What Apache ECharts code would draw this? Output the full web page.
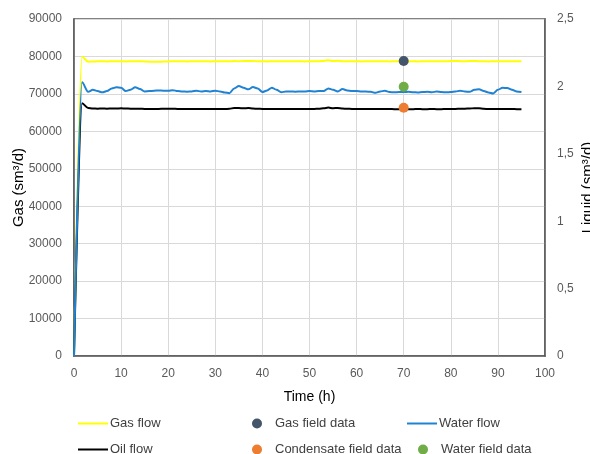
<!DOCTYPE html>
<html>
<head>
<meta charset="utf-8">
<script src="https://cdn.jsdelivr.net/npm/echarts@6/dist/echarts.min.js"></script>
<style>html,body{margin:0;padding:0;background:#fff}#c{width:590px;height:454px}</style>
</head>
<body>
<div id="c"></div>
<script>
var times = [0,1.7,3,4,5,6,7,8,9,10,11,12,13,14,15,16,17,18,19,20,21,22,23,24,25,26,27,28,29,30,31,32,33,34,35,36,37,38,39,40,41,42,43,44,45,46,47,48,49,50,51,52,53,54,55,56,57,58,59,60,61,62,63,64,65,66,67,68,69,70,71,72,73,74,75,76,77,78,79,80,81,82,83,84,85,86,87,88,89,90,91,92,93,94,95];
var gasFlow = [0,79900,78600,78650,78700,78700,78680,78700,78720,78700,78680,78700,78720,78700,78680,78600,78550,78580,78620,78680,78700,78720,78700,78680,78700,78720,78700,78700,78680,78700,78720,78700,78720,78760,78740,78760,78780,78760,78740,78700,78680,78700,78720,78700,78700,78720,78700,78700,78680,78700,78700,78720,78800,78980,78760,78820,78700,78720,78700,78700,78680,78700,78700,78720,78700,78700,78680,78700,78700,78680,78680,78700,78680,78700,78700,78700,78720,78700,78720,78760,78780,78740,78720,78760,78800,78740,78700,78680,78700,78720,78740,78720,78700,78720,78740];
var waterFlow = [0,2.03,1.96,1.975,1.965,1.956,1.965,1.985,1.993,1.99,1.965,1.975,1.993,1.98,1.963,1.965,1.968,1.97,1.968,1.968,1.972,1.965,1.962,1.961,1.963,1.968,1.962,1.966,1.963,1.968,1.962,1.955,1.95,1.985,2.003,1.99,1.978,1.995,1.985,1.958,1.97,1.99,1.975,1.957,1.962,1.963,1.961,1.963,1.962,1.965,1.963,1.966,1.965,1.985,1.975,1.962,1.98,1.97,1.965,1.966,1.963,1.962,1.96,1.952,1.962,1.968,1.958,1.957,1.958,1.958,1.96,1.957,1.955,1.958,1.96,1.957,1.962,1.958,1.956,1.958,1.962,1.968,1.962,1.96,1.975,1.978,1.965,1.955,1.948,1.975,1.99,1.988,1.975,1.962,1.958];
var oilFlow = [0,1.875,1.84,1.836,1.835,1.836,1.835,1.836,1.836,1.837,1.836,1.835,1.834,1.834,1.833,1.832,1.832,1.833,1.834,1.834,1.834,1.833,1.833,1.832,1.832,1.833,1.832,1.832,1.833,1.832,1.833,1.832,1.834,1.84,1.839,1.838,1.839,1.836,1.834,1.833,1.832,1.833,1.832,1.832,1.833,1.832,1.832,1.833,1.833,1.832,1.833,1.834,1.838,1.843,1.838,1.84,1.836,1.834,1.833,1.833,1.832,1.832,1.833,1.832,1.832,1.833,1.832,1.831,1.831,1.831,1.831,1.831,1.832,1.831,1.831,1.832,1.831,1.831,1.832,1.832,1.833,1.834,1.835,1.836,1.838,1.837,1.834,1.832,1.832,1.832,1.832,1.832,1.832,1.831,1.831];
var fieldTime = 70;
var gasField = 78800;
var condensateField = 1.842;
var waterField = 1.998;
var rightTickLabels = ['0','0,5','1','1,5','2','2,5'];

function pairs(xs, ys){ return xs.map(function(x,i){ return [x, ys[i]]; }); }

var font = 'Liberation Sans, Arial, sans-serif';
var labelColor = '#595959';
var chart = echarts.init(document.getElementById('c'));
function lineLegend(left, top, name){
  return {left:left, top:top, itemWidth:30, itemHeight:2, icon:'rect',
    textStyle:{fontFamily:font,fontSize:13,color:'#404040',padding:[0,0,0,-3]},
    data:[name], selectedMode:false, padding:0};
}
function dotLegend(left, top, name){
  return {left:left, top:top, itemWidth:10, itemHeight:10, icon:'circle',
    textStyle:{fontFamily:font,fontSize:13,color:'#404040',padding:[0,0,0,8]},
    data:[name], selectedMode:false, padding:0};
}
chart.setOption({
  animation:false,
  backgroundColor:'#fff',
  grid:{left:74,right:45,top:19,bottom:98,outerBoundsMode:'none',containLabel:false,
    show:true,borderColor:'#595959',borderWidth:1.5,backgroundColor:'transparent'},
  legend:[
    lineLegend(78,417,'Gas flow'),
    lineLegend(78,443,'Oil flow'),
    dotLegend(252,417,'Gas field data'),
    dotLegend(252,443,'Condensate field data'),
    lineLegend(407,417,'Water flow'),
    dotLegend(418,443,'Water field data')
  ],
  xAxis:{type:'value',min:0,max:100,interval:10,name:'Time (h)',nameLocation:'middle',nameGap:34,
    nameTextStyle:{fontFamily:font,fontSize:14,color:'#000'},
    axisLine:{show:true,lineStyle:{color:'#595959',width:1.5}},axisTick:{show:false},
    axisLabel:{fontFamily:font,fontSize:12,color:labelColor,margin:12},
    splitLine:{show:true,lineStyle:{color:'#d9d9d9',width:1}}},
  yAxis:[
    {type:'value',min:0,max:90000,interval:10000,name:'Gas (sm³/d)',nameLocation:'middle',nameGap:48,nameRotate:90,
     nameMoveOverlap:false,
     nameTextStyle:{fontFamily:font,fontSize:15,color:'#000'},
     axisLine:{show:true,lineStyle:{color:'#595959',width:1.5}},axisTick:{show:false},
     axisLabel:{fontFamily:font,fontSize:12,color:labelColor,margin:12,formatter:function(v){return String(v);}},
     splitLine:{show:true,lineStyle:{color:'#d9d9d9',width:1}}},
    {type:'value',min:0,max:2.5,interval:0.5,position:'right',name:'Liquid (sm³/d)',nameLocation:'middle',nameGap:35,nameRotate:90,
     nameMoveOverlap:false,
     nameTextStyle:{fontFamily:font,fontSize:15,color:'#000'},
     axisLine:{show:true,lineStyle:{color:'#595959',width:1.5}},axisTick:{show:false},
     axisLabel:{fontFamily:font,fontSize:12,color:labelColor,margin:12,
       formatter:function(v){ return rightTickLabels[Math.round(v/0.5)]; }},
     splitLine:{show:false}}
  ],
  series:[
    {name:'Gas flow',type:'line',yAxisIndex:0,symbol:'none',smooth:0.3,smoothMonotone:'x',
     data:pairs(times,gasFlow),lineStyle:{color:'#ffff00',width:2},itemStyle:{color:'#ffff00'},z:3},
    {name:'Oil flow',type:'line',yAxisIndex:1,symbol:'none',smooth:0.3,smoothMonotone:'x',
     data:pairs(times,oilFlow),lineStyle:{color:'#000000',width:2},itemStyle:{color:'#000000'},z:3},
    {name:'Gas field data',type:'scatter',yAxisIndex:0,symbol:'circle',symbolSize:10,
     data:[[fieldTime,gasField]],itemStyle:{color:'#44546a',opacity:1},z:5},
    {name:'Condensate field data',type:'scatter',yAxisIndex:1,symbol:'circle',symbolSize:10,
     data:[[fieldTime,condensateField]],itemStyle:{color:'#ed7d31',opacity:1},z:5},
    {name:'Water flow',type:'line',yAxisIndex:1,symbol:'none',smooth:0.3,smoothMonotone:'x',
     data:pairs(times,waterFlow),lineStyle:{color:'#1f82d2',width:2},itemStyle:{color:'#1f82d2'},z:3},
    {name:'Water field data',type:'scatter',yAxisIndex:1,symbol:'circle',symbolSize:10,
     data:[[fieldTime,waterField]],itemStyle:{color:'#70ad47',opacity:1},z:5}
  ]
});
</script>
</body>
</html>
